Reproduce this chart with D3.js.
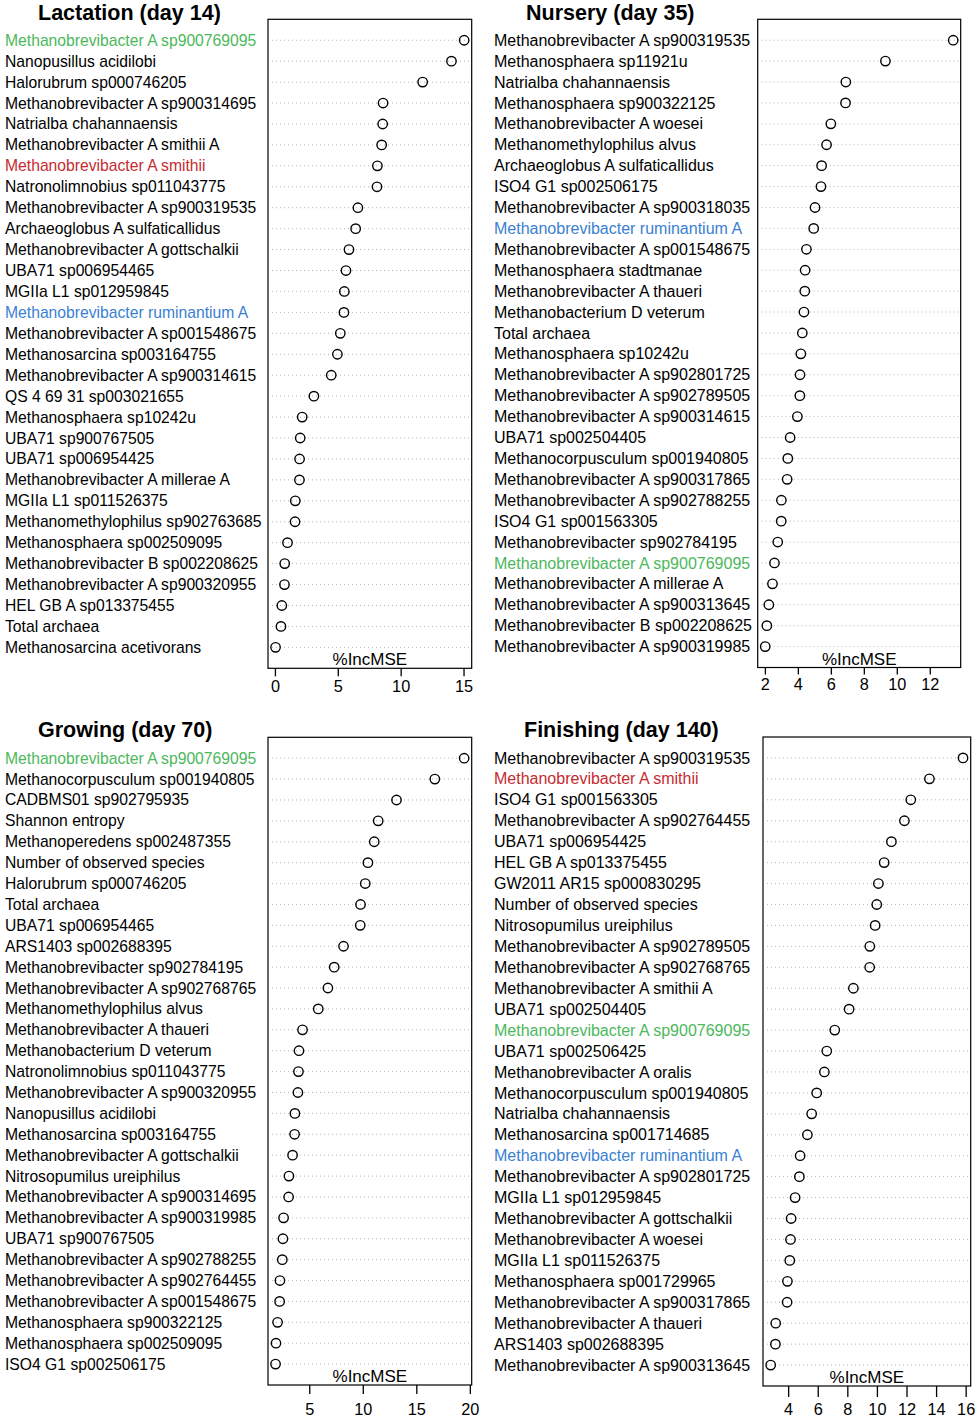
<!DOCTYPE html>
<html>
<head>
<meta charset="utf-8">
<script src="https://cdn.jsdelivr.net/npm/d3@7"></script>
<style>
  html, body { margin: 0; padding: 0; background: #fff; }
  text { font-family: "Liberation Sans", Arial, Helvetica, sans-serif; }
</style>
</head>
<body>
<svg id="chart" width="975" height="1423"></svg>
<script>
// ---------- DATA ----------
const lactationLabels = [
  "Methanobrevibacter A sp900769095", "Nanopusillus acidilobi", "Halorubrum sp000746205",
  "Methanobrevibacter A sp900314695", "Natrialba chahannaensis", "Methanobrevibacter A smithii A",
  "Methanobrevibacter A smithii", "Natronolimnobius sp011043775", "Methanobrevibacter A sp900319535",
  "Archaeoglobus A sulfaticallidus", "Methanobrevibacter A gottschalkii", "UBA71 sp006954465",
  "MGIIa L1 sp012959845", "Methanobrevibacter ruminantium A", "Methanobrevibacter A sp001548675",
  "Methanosarcina sp003164755", "Methanobrevibacter A sp900314615", "QS 4 69 31 sp003021655",
  "Methanosphaera sp10242u", "UBA71 sp900767505", "UBA71 sp006954425",
  "Methanobrevibacter A millerae A", "MGIIa L1 sp011526375", "Methanomethylophilus sp902763685",
  "Methanosphaera sp002509095", "Methanobrevibacter B sp002208625", "Methanobrevibacter A sp900320955",
  "HEL GB A sp013375455", "Total archaea", "Methanosarcina acetivorans"
];
const lactationValues = [15.05, 14.04, 11.75, 8.6, 8.57, 8.49, 8.15, 8.12, 6.6, 6.42, 5.89, 5.65, 5.52, 5.49, 5.2,
  4.97, 4.48, 3.1, 2.17, 2.01, 1.96, 1.95, 1.62, 1.6, 1.0, 0.78, 0.76, 0.55, 0.48, 0.05];
const lactationTicks = [0, 5, 10, 15];

const nurseryLabels = [
  "Methanobrevibacter A sp900319535", "Methanosphaera sp11921u", "Natrialba chahannaensis",
  "Methanosphaera sp900322125", "Methanobrevibacter A woesei", "Methanomethylophilus alvus",
  "Archaeoglobus A sulfaticallidus", "ISO4 G1 sp002506175", "Methanobrevibacter A sp900318035",
  "Methanobrevibacter ruminantium A", "Methanobrevibacter A sp001548675", "Methanosphaera stadtmanae",
  "Methanobrevibacter A thaueri", "Methanobacterium D veterum", "Total archaea",
  "Methanosphaera sp10242u", "Methanobrevibacter A sp902801725", "Methanobrevibacter A sp902789505",
  "Methanobrevibacter A sp900314615", "UBA71 sp002504405", "Methanocorpusculum sp001940805",
  "Methanobrevibacter A sp900317865", "Methanobrevibacter A sp902788255", "ISO4 G1 sp001563305",
  "Methanobrevibacter sp902784195", "Methanobrevibacter A sp900769095", "Methanobrevibacter A millerae A",
  "Methanobrevibacter A sp900313645", "Methanobrevibacter B sp002208625", "Methanobrevibacter A sp900319985"
];
const nurseryValues = [13.42, 9.31, 6.91, 6.89, 6.0, 5.74, 5.44, 5.4, 5.04, 4.96, 4.52, 4.44, 4.42, 4.37, 4.27,
  4.18, 4.13, 4.12, 3.97, 3.53, 3.39, 3.35, 3.0, 2.99, 2.78, 2.58, 2.46, 2.24, 2.12, 2.02];
const nurseryTicks = [2, 4, 6, 8, 10, 12];

const growingLabels = [
  "Methanobrevibacter A sp900769095", "Methanocorpusculum sp001940805", "CADBMS01 sp902795935",
  "Shannon entropy", "Methanoperedens sp002487355", "Number of observed species",
  "Halorubrum sp000746205", "Total archaea", "UBA71 sp006954465",
  "ARS1403 sp002688395", "Methanobrevibacter sp902784195", "Methanobrevibacter A sp902768765",
  "Methanomethylophilus alvus", "Methanobrevibacter A thaueri", "Methanobacterium D veterum",
  "Natronolimnobius sp011043775", "Methanobrevibacter A sp900320955", "Nanopusillus acidilobi",
  "Methanosarcina sp003164755", "Methanobrevibacter A gottschalkii", "Nitrosopumilus ureiphilus",
  "Methanobrevibacter A sp900314695", "Methanobrevibacter A sp900319985", "UBA71 sp900767505",
  "Methanobrevibacter A sp902788255", "Methanobrevibacter A sp902764455", "Methanobrevibacter A sp001548675",
  "Methanosphaera sp900322125", "Methanosphaera sp002509095", "ISO4 G1 sp002506175"
];
const growingValues = [19.47, 16.73, 13.15, 11.44, 11.07, 10.48, 10.23, 9.79, 9.76, 8.2, 7.33, 6.74, 5.84, 4.37, 4.04,
  3.99, 3.94, 3.66, 3.63, 3.44, 3.1, 3.07, 2.6, 2.54, 2.48, 2.26, 2.23, 2.04, 1.89, 1.85];
const growingTicks = [5, 10, 15, 20];

const finishingLabels = [
  "Methanobrevibacter A sp900319535", "Methanobrevibacter A smithii", "ISO4 G1 sp001563305",
  "Methanobrevibacter A sp902764455", "UBA71 sp006954425", "HEL GB A sp013375455",
  "GW2011 AR15 sp000830295", "Number of observed species", "Nitrosopumilus ureiphilus",
  "Methanobrevibacter A sp902789505", "Methanobrevibacter A sp902768765", "Methanobrevibacter A smithii A",
  "UBA71 sp002504405", "Methanobrevibacter A sp900769095", "UBA71 sp002506425",
  "Methanobrevibacter A oralis", "Methanocorpusculum sp001940805", "Natrialba chahannaensis",
  "Methanosarcina sp001714685", "Methanobrevibacter ruminantium A", "Methanobrevibacter A sp902801725",
  "MGIIa L1 sp012959845", "Methanobrevibacter A gottschalkii", "Methanobrevibacter A woesei",
  "MGIIa L1 sp011526375", "Methanosphaera sp001729965", "Methanobrevibacter A sp900317865",
  "Methanobrevibacter A thaueri", "ARS1403 sp002688395", "Methanobrevibacter A sp900313645"
];
const finishingValues = [15.82, 13.55, 12.29, 11.86, 10.98, 10.49, 10.1, 9.99, 9.88, 9.52, 9.51, 8.41, 8.12, 7.15, 6.61,
  6.45, 5.93, 5.59, 5.3, 4.81, 4.76, 4.47, 4.2, 4.16, 4.11, 3.95, 3.93, 3.16, 3.14, 2.82];
const finishingTicks = [4, 6, 8, 10, 12, 14, 16];

const panelTitles = ["Lactation (day 14)", "Nursery (day 35)", "Growing (day 70)", "Finishing (day 140)"];
const xAxisTitle = "%IncMSE";

const highlightNames = ["Methanobrevibacter A sp900769095", "Methanobrevibacter A smithii", "Methanobrevibacter ruminantium A"];
const highlightColors = ["#4cb85c", "#c62a2f", "#3a7fd2"];

// ---------- LAYOUT ----------
const panels = [
  { title: panelTitles[0], labels: lactationLabels, values: lactationValues, ticks: lactationTicks,
    box: [268, 471.7, 19.3, 668.3], labelX: 5, titleX: 38, titleY: 20, font: 15.7, tickLen: 8, tickLab: 23.5 },
  { title: panelTitles[1], labels: nurseryLabels, values: nurseryValues, ticks: nurseryTicks,
    box: [757.7, 960.7, 19.3, 667.5], labelX: 494, titleX: 526, titleY: 20, font: 16, tickLen: 7, tickLab: 22 },
  { title: panelTitles[2], labels: growingLabels, values: growingValues, ticks: growingTicks,
    box: [268, 471.7, 737.3, 1385], labelX: 5, titleX: 38, titleY: 737, font: 15.7, tickLen: 9, tickLab: 30 },
  { title: panelTitles[3], labels: finishingLabels, values: finishingValues, ticks: finishingTicks,
    box: [763, 970.7, 737, 1386], labelX: 494, titleX: 524, titleY: 737, font: 16, tickLen: 11, tickLab: 29 }
];

const svg = d3.select("#chart");
svg.append("rect").attr("width", 975).attr("height", 1423).attr("fill", "#fff");

function colorFor(name) {
  const i = highlightNames.indexOf(name);
  return i >= 0 ? highlightColors[i] : "#000";
}

panels.forEach(p => {
  const [x0, x1, y0, y1] = p.box;
  const n = p.values.length;
  const lo = d3.min(p.values), hi = d3.max(p.values), r = hi - lo;
  const x = d3.scaleLinear().domain([lo - 0.04 * r, hi + 0.04 * r]).range([x0, x1]);
  const y = d3.scaleLinear().domain([0, n + 1]).range([y0, y1]);
  const g = svg.append("g");

  // title
  g.append("text").attr("x", p.titleX).attr("y", p.titleY)
    .attr("font-size", 21.5).attr("font-weight", "bold").attr("fill", "#000").text(p.title);

  // dotted guide lines
  g.selectAll("line.guide").data(p.values).join("line").attr("class", "guide")
    .attr("x1", x0 + 4).attr("x2", x1).attr("y1", (d, i) => y(i + 1)).attr("y2", (d, i) => y(i + 1))
    .attr("stroke", "#b4b4b4").attr("stroke-width", 1).attr("stroke-dasharray", "1,3");

  // labels
  g.selectAll("text.lab").data(p.labels).join("text").attr("class", "lab")
    .attr("x", p.labelX).attr("y", (d, i) => y(i + 1)).attr("dy", "0.35em")
    .attr("font-size", p.font).attr("fill", d => colorFor(d)).text(d => d);

  // points
  g.selectAll("circle").data(p.values).join("circle")
    .attr("cx", d => x(d)).attr("cy", (d, i) => y(i + 1)).attr("r", 4.7)
    .attr("fill", "none").attr("stroke", "#000").attr("stroke-width", 1.4);

  // box
  g.append("rect").attr("x", x0).attr("y", y0).attr("width", x1 - x0).attr("height", y1 - y0)
    .attr("fill", "none").attr("stroke", "#000").attr("stroke-width", 1.2);

  // axis title inside box
  g.append("text").attr("x", (x0 + x1) / 2).attr("y", y1 - 3).attr("text-anchor", "middle")
    .attr("font-size", 17).attr("fill", "#000").text(xAxisTitle);

  // x axis
  const axis = d3.axisBottom(x).tickValues(p.ticks).tickSize(p.tickLen).tickPadding(0).tickFormat(d3.format("d"));
  const ag = g.append("g").attr("transform", `translate(0,${y1})`).call(axis);
  ag.select(".domain").remove();
  ag.selectAll(".tick line").attr("stroke", "#000").attr("stroke-width", 1.3);
  ag.selectAll(".tick text").attr("font-size", 16.3).attr("fill", "#000")
    .attr("font-family", '"Liberation Sans", Arial, sans-serif')
    .attr("dy", null).attr("y", p.tickLab);
});
</script>
</body>
</html>
